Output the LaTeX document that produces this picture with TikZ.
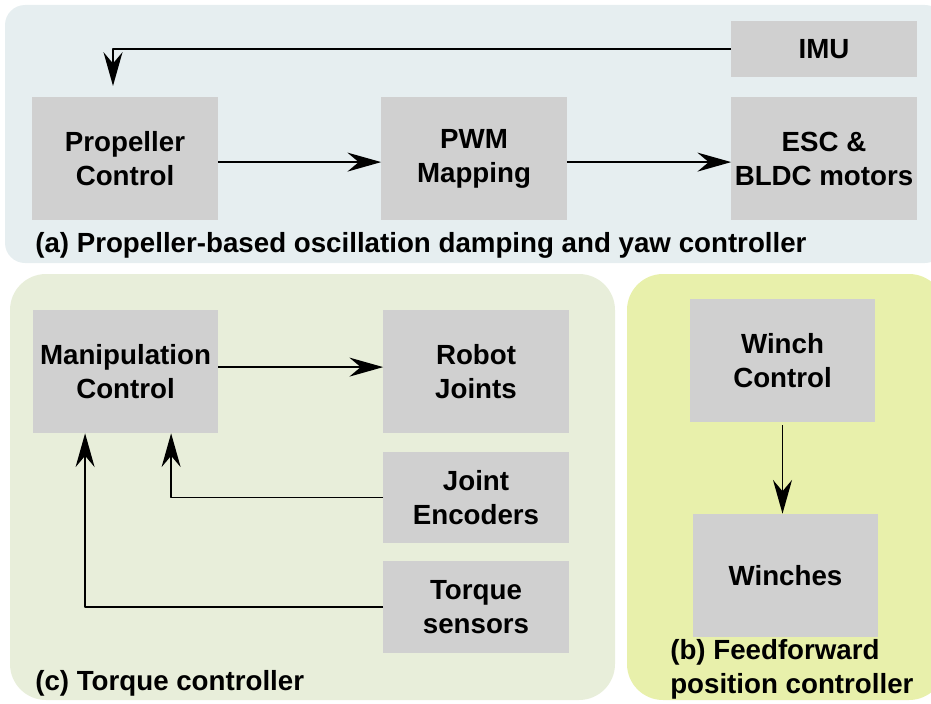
\documentclass[tikz,border=0pt]{standalone}
\usepackage{fontspec}
\setmainfont{Liberation Sans}
\usetikzlibrary{arrows.meta}
\definecolor{boxgray}{HTML}{D0D0D0}
\definecolor{bgblue}{HTML}{E6EEF0}
\definecolor{bggreen}{HTML}{E8EEDA}
\definecolor{bgyellow}{HTML}{E8F0AB}
\tikzset{
  blk/.style={fill=boxgray, minimum width=4.625cm, minimum height=3.05cm, inner sep=0pt, align=center},
  capt/.style={anchor=west, inner sep=0pt, align=left},
  arr/.style={line width=1.4pt, -{Stealth[length=24pt,width=13.5pt,inset=8pt]}}
}
\begin{document}
\begin{tikzpicture}[x=0.025cm, y=-0.025cm, font=\bfseries\fontsize{19.7pt}{24.2pt}\selectfont, line join=round]
		\useasboundingbox (0,0) rectangle (931,703);
		% panels
		\fill[bgblue, rounded corners=0.5cm] (5,5) rectangle (945,263);
		\fill[bggreen, rounded corners=0.9cm] (10,274) rectangle (615,700);
		\fill[bgyellow, rounded corners=0.9cm] (627,274) rectangle (945,700);
		% (a)
		\node[blk, minimum height=1.4cm] (imu) at (824,49) {IMU};
		\node[blk] (prop) at (125,158.5) {Propeller\\Control};
		\node[blk] (pwm) at (474,158.5) {PWM\\Mapping};
		\node[blk] (esc) at (824,158.5) {ESC \&\\BLDC motors};
		\draw[arr, shorten >=8pt] (imu.west) -| ([xshift=-0.3cm]prop.north);
		\draw[arr] ([yshift=-0.09cm]prop.east) -- ([yshift=-0.09cm]pwm.west);
		\draw[arr] ([yshift=-0.09cm]pwm.east) -- ([yshift=-0.09cm]esc.west);
		\node[capt] (capa) at (35,245) {(a) Propeller-based oscillation damping and yaw controller};
		% (c)
		\node[blk, minimum height=3.075cm] (manip) at (125.5,371.5) {Manipulation\\Control};
		\node[blk, minimum height=3.075cm] (robot) at (476,371.5) {Robot\\Joints};
		\node[blk, minimum height=2.275cm] (enc) at (476,497.5) {Joint\\Encoders};
		\node[blk, minimum height=2.3cm] (torque) at (476,607) {Torque\\sensors};
		\draw[arr] ([yshift=0.11cm]manip.east) -- ([yshift=0.11cm]robot.west);
		\draw[arr] (enc.west) -| ([xshift=1.14cm]manip.south);
		\draw[arr] (torque.west) -| ([xshift=-1.01cm]manip.south);
		\node[capt] (capc) at (35,683) {(c) Torque controller};
		% (b)
		\node[blk, minimum height=3.075cm] (winchctl) at (782.5,360.5) {Winch\\Control};
		\node[blk, minimum height=3.075cm] (winches) at (785.5,575.5) {Winches};
		\draw[arr, shorten <=2pt] (winchctl.south) -- (winchctl.south |- winches.north);
		\node[capt] (capb) at (670,669.5) {(b) Feedforward\\position controller};
\end{tikzpicture}
\end{document}
